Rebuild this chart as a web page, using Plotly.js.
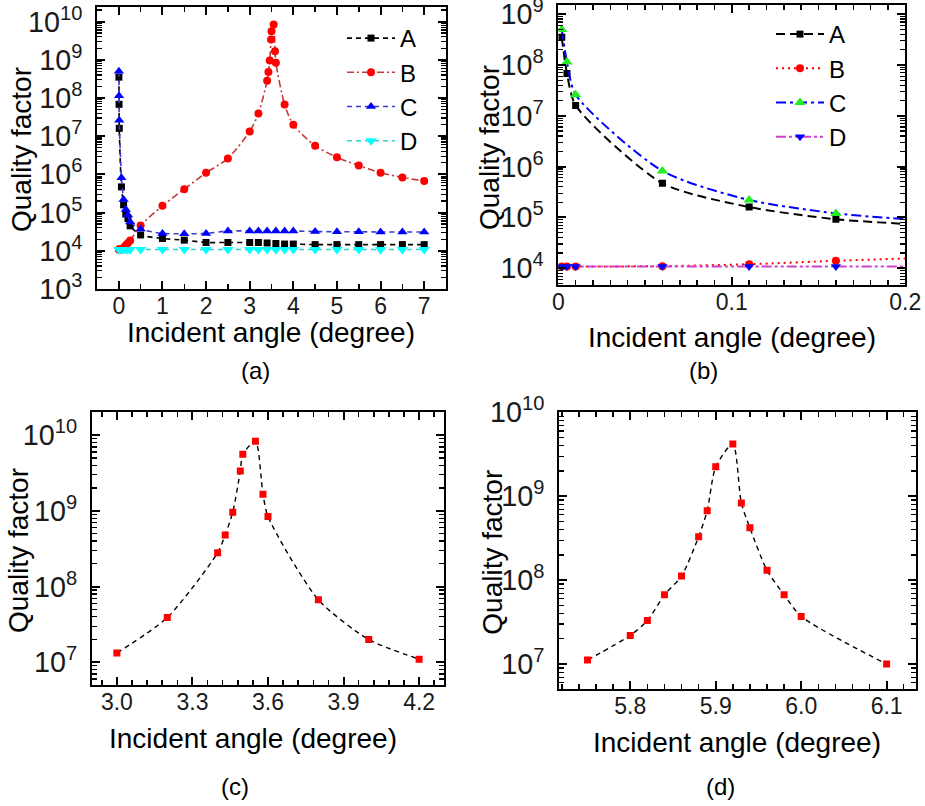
<!DOCTYPE html>
<html>
<head>
<meta charset="utf-8">
<script src="https://cdn.plot.ly/plotly-3.0.1.min.js"></script>
<style>html,body{margin:0;padding:0;background:#fff;}#chart{width:925px;height:806px;}</style>
</head>
<body>
<div id="chart"></div>
<script>
// ---------- data ----------
const seriesNames = ['A', 'B', 'C', 'D'];
const xACD = [0.002, 0.005, 0.01, 0.06, 0.11, 0.16, 0.21, 0.26, 0.5, 1, 1.5, 2, 2.5, 3, 3.2, 3.4, 3.6, 3.8, 4, 4.5, 5, 5.5, 6, 6.5, 7];
const qA = [3.5e8, 6.8e7, 1.6e7, 4.7e5, 1.6e5, 9.2e4, 7.0e4, 4.5e4, 2.6e4, 2.1e4, 1.9e4, 1.65e4, 1.65e4, 1.65e4, 1.65e4, 1.6e4, 1.55e4, 1.5e4, 1.5e4, 1.45e4, 1.45e4, 1.45e4, 1.45e4, 1.45e4, 1.45e4];
const qC = [5.0e8, 1.14e8, 2.6e7, 8.2e5, 2.2e5, 1.2e5, 8.6e4, 5.7e4, 3.7e4, 2.85e4, 2.8e4, 2.85e4, 3.3e4, 3.3e4, 3.3e4, 3.3e4, 3.3e4, 3.3e4, 3.3e4, 3.2e4, 3.15e4, 3.15e4, 3.1e4, 3.1e4, 3.1e4];
const qD = [1.08e4, 1.08e4, 1.08e4, 1.08e4, 1.08e4, 1.08e4, 1.08e4, 1.08e4, 1.08e4, 1.08e4, 1.08e4, 1.08e4, 1.08e4, 1.08e4, 1.08e4, 1.08e4, 1.08e4, 1.08e4, 1.08e4, 1.08e4, 1.08e4, 1.08e4, 1.08e4, 1.08e4, 1.08e4];
const xB = [0.002, 0.005, 0.01, 0.06, 0.11, 0.16, 0.21, 0.26, 0.5, 1, 1.5, 2, 2.5, 3, 3.2, 3.4, 3.43, 3.46, 3.49, 3.5, 3.55, 3.58, 3.6, 3.8, 4, 4.5, 5, 5.5, 6, 6.5, 7];
const qB = [1.08e4, 1.08e4, 1.08e4, 1.1e4, 1.2e4, 1.4e4, 1.6e4, 1.85e4, 4.6e4, 1.5e5, 4.1e5, 1.1e6, 2.6e6, 1.33e7, 3.9e7, 2.8e8, 4.8e8, 9.6e8, 3.36e9, 5.6e9, 8.3e9, 1.66e9, 8.4e8, 6.7e7, 2.0e7, 5.6e6, 2.8e6, 1.7e6, 1.1e6, 8.3e5, 6.7e5];
// panel (c): zoom of B around its peak
const xPeak1 = [3.0, 3.2, 3.4, 3.43, 3.46, 3.49, 3.5, 3.55, 3.58, 3.6, 3.8, 4.0, 4.2];
const qPeak1 = [1.33e7, 3.9e7, 2.8e8, 4.8e8, 9.6e8, 3.36e9, 5.6e9, 8.3e9, 1.66e9, 8.4e8, 6.7e7, 2.0e7, 1.1e7];
// panel (d)
const xPeak2 = [5.75, 5.80, 5.82, 5.84, 5.86, 5.88, 5.89, 5.90, 5.92, 5.93, 5.94, 5.96, 5.98, 6.00, 6.10];
const qPeak2 = [1.12e7, 2.2e7, 3.3e7, 6.7e7, 1.12e8, 3.3e8, 6.7e8, 2.24e9, 4.2e9, 8.3e8, 4.2e8, 1.31e8, 6.7e7, 3.7e7, 1.0e7];
const panelLabels = ['(a)', '(b)', '(c)', '(d)'];
const xTitle = 'Incident angle (degree)';
const yTitle = 'Quality factor';

// ---------- styling ----------
const FONT = 'Arial, "Liberation Sans", sans-serif';
const W = 925, H = 806;
const px = v => v / W;
const py = v => 1 - v / H;

function mk(x, y, xa, ya, name, line, marker, legend, show) {
  return {
    type: 'scatter', mode: 'lines+markers', x: x, y: y, name: name,
    xaxis: xa, yaxis: ya, legend: legend, showlegend: show,
    line: Object.assign({shape: 'spline', smoothing: 0.7, width: 1.6}, line),
    marker: marker, cliponaxis: true
  };
}

const traces = [
  // panel (a)
  mk(xACD, qA, 'x', 'y', seriesNames[0], {color: '#000000', dash: '5px,4px'}, {symbol: 'square', size: 7, color: '#000000'}, 'legend', true),
  mk(xB, qB, 'x', 'y', seriesNames[1], {color: '#c43a3a', dash: '7px,3px,2px,3px'}, {symbol: 'circle', size: 8, color: '#ff0000'}, 'legend', true),
  mk(xACD, qC, 'x', 'y', seriesNames[2], {color: '#3a3ad0', dash: '5px,4px'}, {symbol: 'triangle-up', size: 9, color: '#0000ff'}, 'legend', true),
  mk(xACD, qD, 'x', 'y', seriesNames[3], {color: '#30d0d0', dash: '5px,4px'}, {symbol: 'triangle-down', size: 10, color: '#00ffff'}, 'legend', true),
  // panel (b)
  mk(xACD, qA, 'x2', 'y2', seriesNames[0], {color: '#000000', dash: '9px,5px', width: 2}, {symbol: 'square', size: 7, color: '#000000'}, 'legend2', true),
  mk(xB, qB, 'x2', 'y2', seriesNames[1], {color: '#ff0000', dash: '2px,4px', width: 2}, {symbol: 'circle', size: 8, color: '#ff0000'}, 'legend2', true),
  mk(xACD, qC, 'x2', 'y2', seriesNames[2], {color: '#0000ff', dash: '10px,4px,3px,4px', width: 2}, {symbol: 'triangle-up', size: 10, color: '#22ee22'}, 'legend2', true),
  mk(xACD, qD, 'x2', 'y2', seriesNames[3], {color: '#d040d0', dash: '10px,3px,3px,3px,3px,3px', width: 2}, {symbol: 'triangle-down', size: 9, color: '#0000ff'}, 'legend2', true),
  // panel (c)
  mk(xPeak1, qPeak1, 'x3', 'y3', 'B', {color: '#000000', dash: '5px,4px', width: 1.4}, {symbol: 'square', size: 7, color: '#ff0000'}, 'legend', false),
  // panel (d)
  mk(xPeak2, qPeak2, 'x4', 'y4', 'B', {color: '#000000', dash: '5px,4px', width: 1.4}, {symbol: 'square', size: 7, color: '#ff0000'}, 'legend', false)
];

const tickFont = {family: FONT, size: 23, color: '#1a1a1a'};

function xax(domain, anchor, range, dtick, minorDtick, tick0, fmt) {
  const a = {
    domain: domain, anchor: anchor, range: range, dtick: dtick, tick0: tick0,
    showgrid: false, zeroline: false,
    showline: true, linecolor: '#000', linewidth: 2, mirror: 'ticks',
    ticks: 'inside', ticklen: 8, tickwidth: 2, tickcolor: '#000',
    minor: {ticks: 'inside', ticklen: 5, tickwidth: 1.5, tickcolor: '#000', dtick: minorDtick, showgrid: false},
    tickfont: tickFont, ticklabelstandoff: -5, ticklabeloverflow: 'allow'
  };
  if (fmt) a.tickformat = fmt;
  return a;
}
function yax(domain, anchor, range) {
  return {
    domain: domain, anchor: anchor, type: 'log', range: range, dtick: 1,
    exponentformat: 'power', showexponent: 'all',
    showgrid: false, zeroline: false,
    showline: true, linecolor: '#000', linewidth: 2, mirror: 'ticks',
    ticks: 'inside', ticklen: 8, tickwidth: 2, tickcolor: '#000',
    minor: {ticks: 'inside', ticklen: 5, tickwidth: 1.2, tickcolor: '#000', showgrid: false},
    tickfont: tickFont, ticklabelstandoff: 8, ticklabeloverflow: 'allow'
  };
}

const legendCommon = {
  bgcolor: 'rgba(0,0,0,0)', borderwidth: 0, xanchor: 'left', yanchor: 'top',
  font: {family: FONT, size: 24, color: '#000'}, tracegroupgap: 0, itemwidth: 48
};

function ann(text, x, y, size, angle) {
  return {text: text, x: px(x), y: py(y), xref: 'paper', yref: 'paper', xanchor: 'center', yanchor: 'middle',
          showarrow: false, textangle: angle || 0, font: {family: FONT, size: size, color: '#000'}};
}

const layout = {
  width: W, height: H, margin: {l: 0, r: 0, t: 0, b: 0},
  paper_bgcolor: '#fff', plot_bgcolor: '#fff', showlegend: true,
  font: {family: FONT},
  xaxis: xax([px(97), px(446)], 'y', [-0.5, 7.5], 1, 0.5, 0),
  yaxis: yax([py(289), py(7)], 'x', [3, 10.38]),
  xaxis2: xax([px(558.3), px(905.3)], 'y2', [0, 0.2], 0.1, 0.01, 0),
  yaxis2: yax([py(285), py(5)], 'x2', [3.67, 9.18]),
  xaxis3: xax([px(91.7), px(444.3)], 'y3', [2.9, 4.3], 0.3, 0.06, 3.0, '.1f'),
  yaxis3: yax([py(685), py(411.7)], 'x3', [6.7, 10.31]),
  xaxis4: xax([px(559), px(915.7)], 'y4', [5.7166, 6.134], 0.1, 0.02, 5.8, '.1f'),
  yaxis4: yax([py(689.3), py(412.3)], 'x4', [6.7, 10.0]),
  legend: Object.assign({x: px(342), y: py(16)}, legendCommon),
  legend2: Object.assign({x: px(771), y: py(12)}, legendCommon),
  annotations: [
    ann(panelLabels[0], 255, 370, 24), ann(panelLabels[1], 703, 370, 24),
    ann(panelLabels[2], 235, 786, 24), ann(panelLabels[3], 720, 786, 24),
    ann(xTitle, 270.5, 332.5, 28), ann(xTitle, 732, 337, 28),
    ann(xTitle, 253.5, 738.5, 28), ann(xTitle, 737, 742, 28),
    ann(yTitle, 22, 150, 28, -90), ann(yTitle, 490, 148, 28, -90),
    ann(yTitle, 18.3, 550.7, 28, -90), ann(yTitle, 491.7, 552, 28, -90)
  ]
};

Plotly.newPlot('chart', traces, layout, {displayModeBar: false, staticPlot: true});
</script>
</body>
</html>
